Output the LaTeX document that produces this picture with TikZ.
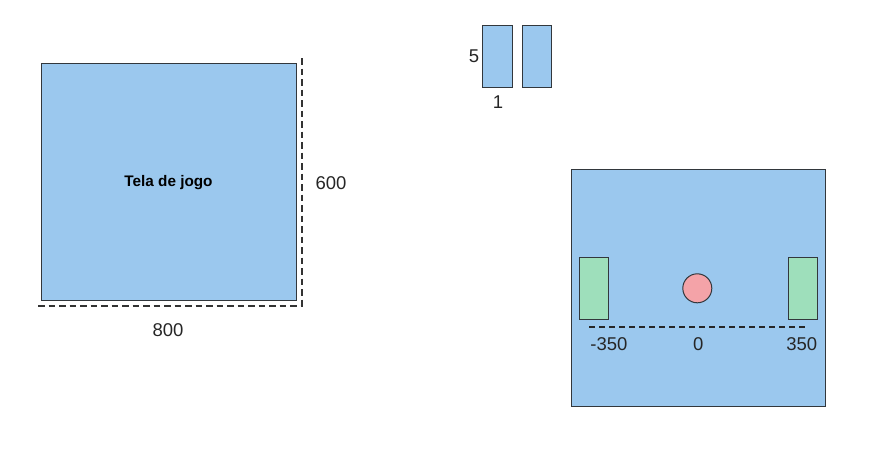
\documentclass[tikz,border=0pt]{standalone}
\usepackage{fontspec}
\setmainfont{Liberation Sans}
\definecolor{bluefill}{RGB}{155,200,238}
\definecolor{greenfill}{RGB}{158,223,187}
\definecolor{redfill}{RGB}{244,163,168}
\definecolor{edge}{RGB}{50,55,60}
\tikzset{
  box/.style={draw=edge, line width=1pt, fill=bluefill},
  paddle/.style={draw=edge, line width=1pt, fill=greenfill},
  ball/.style={circle, draw=edge, line width=1pt, fill=redfill, inner sep=0pt, minimum size=29pt},
  dim/.style={draw=black!80, line width=1.9pt, dash pattern=on 6.5pt off 4pt},
  thindim/.style={draw=black!85, line width=1.3pt, dash pattern=on 6pt off 4pt},
  lbl/.style={font=\fontsize{18.5}{20}\selectfont, text=black!85, inner sep=0pt},
}
\begin{document}
\begin{tikzpicture}[x=1pt,y=-1pt]
\useasboundingbox (0,0) rectangle (875,453);
% left screen
\draw[box] (41,63) rectangle (296,300);
\node[font=\bfseries\fontsize{15.3}{17}\selectfont, inner sep=0pt] (tela) at (168.5,183) {Tela de jogo};
\coordinate (vt) at (301.8,58);
\coordinate (vb) at (301.8,306);
\coordinate (hl) at (38,306);
\coordinate (hr) at (303,306);
\draw[dim] (vt) -- (vb);
\draw[dim] (hl) -- (hr);
\node[lbl] (l600) at (331,183) {600};
\node[lbl] (l800) at (168,330) {800};
% small rectangles
\draw[box] (482.7,25) rectangle (512.3,87.3);
\draw[box] (522.3,25) rectangle (551.7,87.3);
\node[lbl] (l5) at (474,56) {5};
\node[lbl] (l1) at (498,102) {1};
% right screen
\draw[box] (571,169.3) rectangle (825.7,406.7);
\draw[paddle] (579,257.3) rectangle (608.7,319.7);
\draw[paddle] (788.7,257.3) rectangle (817.7,319.7);
\node[ball] (b) at (697.3,288.3) {};
\coordinate (dl) at (589,327);
\coordinate (dr) at (806.7,327);
\draw[thindim] (dl) -- (dr);
\node[lbl] (m350) at (609,344.5) {-350};
\node[lbl] (z0) at (698.3,344.5) {0};
\node[lbl] (p350) at (801.7,344.5) {350};
\end{tikzpicture}
\end{document}
